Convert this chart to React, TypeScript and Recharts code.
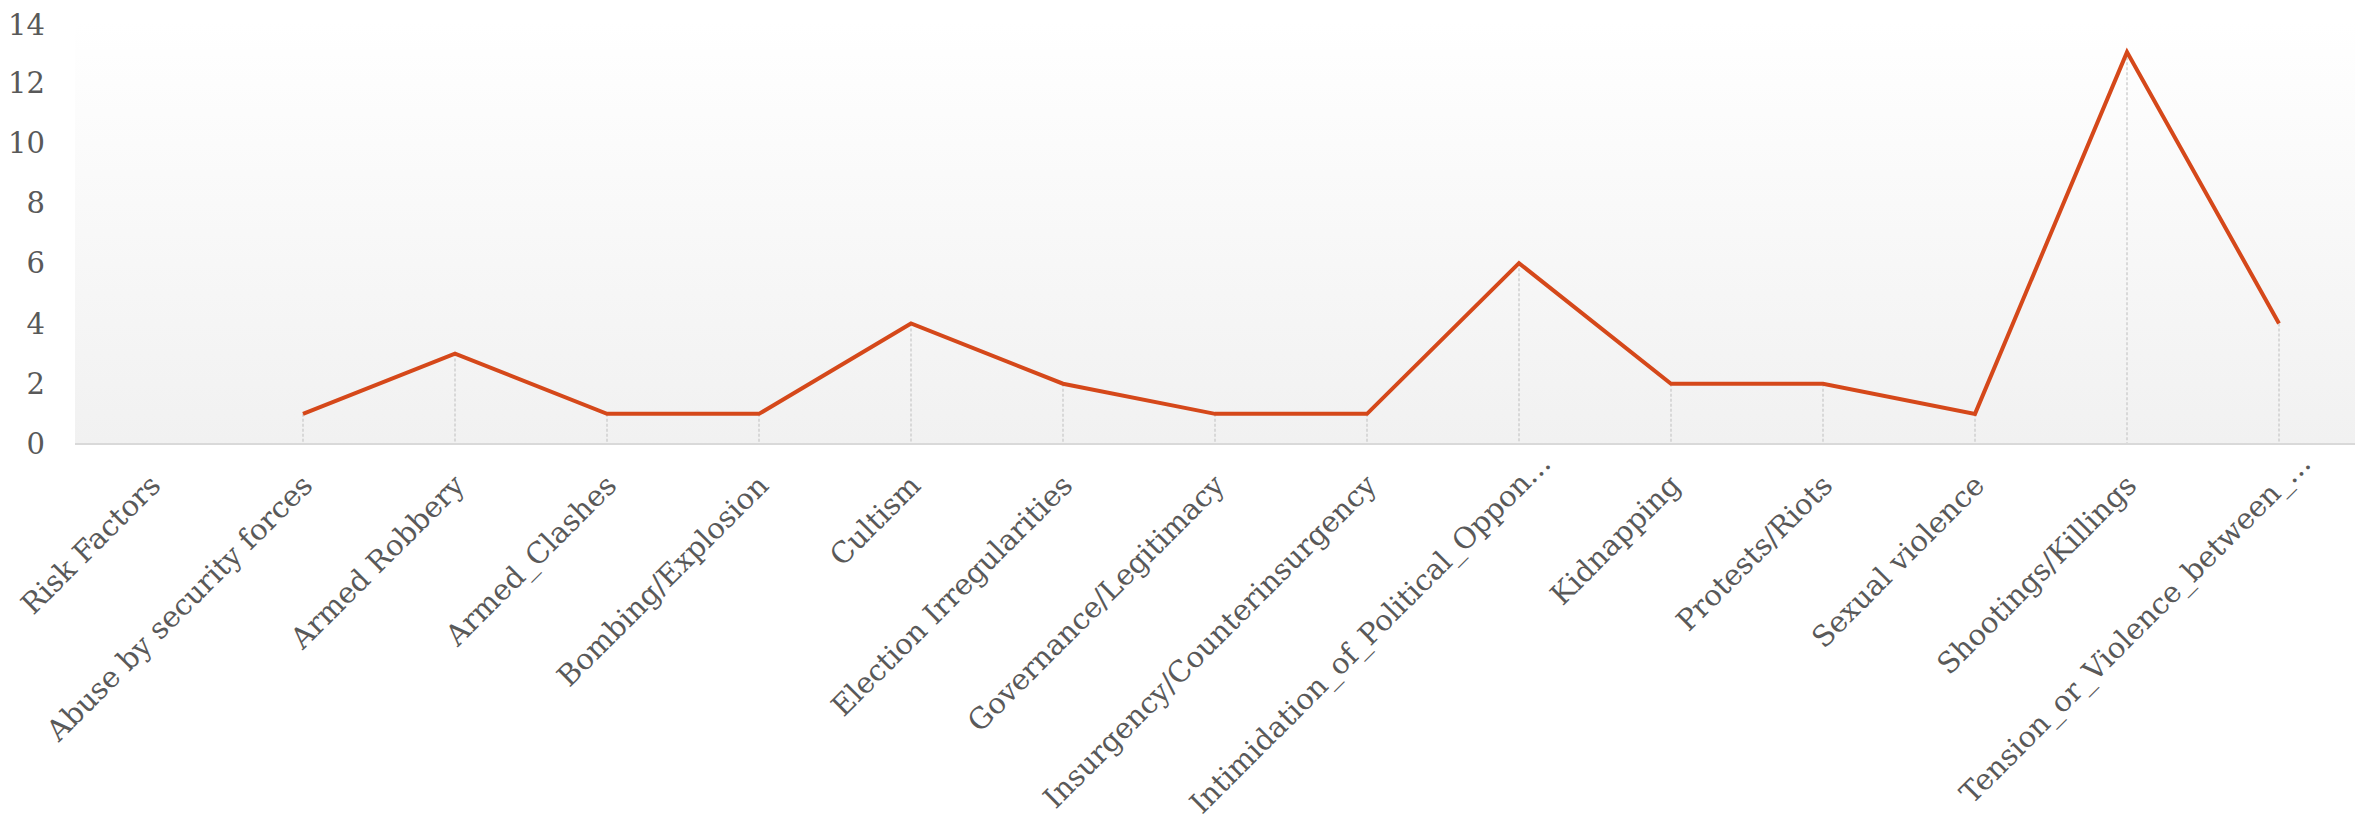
import React from "react";
import { ComposedChart, Line, Bar, XAxis, YAxis, CartesianGrid } from "recharts";

const categories: string[] = [
  "Risk Factors",
  "Abuse by security forces",
  "Armed Robbery",
  "Armed_Clashes",
  "Bombing/Explosion",
  "Cultism",
  "Election Irregularities",
  "Governance/Legitimacy",
  "Insurgency/Counterinsurgency",
  "Intimidation_of_Political_Oppon...",
  "Kidnapping",
  "Protests/Riots",
  "Sexual violence",
  "Shootings/Killings",
  "Tension_or_Violence_between_...",
];

const counts: (number | null)[] = [null, 1, 3, 1, 1, 4, 2, 1, 1, 6, 2, 2, 1, 13, 4];

const yTicks: number[] = [0, 2, 4, 6, 8, 10, 12, 14];

const data = categories.map((name, i) => ({ name, value: counts[i] }));

const FONT = "'DejaVu Serif', serif";
const LABEL_COLOR = "#595959";
const LINE_COLOR = "#D5481A";

const XTick = (props: any) => {
  const { x, y, payload } = props;
  const label: string = String(payload.value);
  const shift = label.endsWith("...") ? 22 : 0;
  return (
    <g transform={`translate(${x + 4 + shift},${y + 28 - shift})`}>
      <text
        transform="rotate(-45)"
        textAnchor="end"
        dy="0.35em"
        fontSize={29}
        fontFamily={FONT}
        fill={LABEL_COLOR}
      >
        {label}
      </text>
    </g>
  );
};

const DropLine = (props: any) => {
  const { x, y, width, height } = props;
  if (height == null || isNaN(height) || height <= 0) return null;
  const cx = x + width / 2;
  return (
    <line
      x1={cx}
      x2={cx}
      y1={y}
      y2={y + height}
      stroke="#cfcfcf"
      strokeWidth={1.5}
      strokeDasharray="3 2"
    />
  );
};

export default function App() {
  return (
    <ComposedChart
      width={2355}
      height={824}
      data={data}
      margin={{ top: 14, right: 8, bottom: 0, left: 0 }}
    >
      <defs>
        <linearGradient id="bgGrad" x1="0" y1="0" x2="0" y2="1">
          <stop offset="0%" stopColor="#ffffff" />
          <stop offset="100%" stopColor="#f1f1f1" />
        </linearGradient>
      </defs>
      <CartesianGrid horizontal={false} vertical={false} fill="url(#bgGrad)" stroke="none" />
      <XAxis
        dataKey="name"
        interval={0}
        height={388}
        tickLine={false}
        axisLine={{ stroke: "#d9d9d9", strokeWidth: 2 }}
        tick={<XTick />}
      />
      <YAxis
        width={67}
        domain={[0, 14]}
        ticks={yTicks}
        axisLine={false}
        tickLine={false}
        tickMargin={24}
        tick={{ fontSize: 29, fontFamily: FONT, fill: LABEL_COLOR }}
      />
      <Bar dataKey="value" barSize={2} shape={<DropLine />} isAnimationActive={false} />
      <Line
        dataKey="value"
        stroke={LINE_COLOR}
        strokeWidth={4}
        dot={false}
        activeDot={false}
        isAnimationActive={false}
        connectNulls={false}
      />
    </ComposedChart>
  );
}
